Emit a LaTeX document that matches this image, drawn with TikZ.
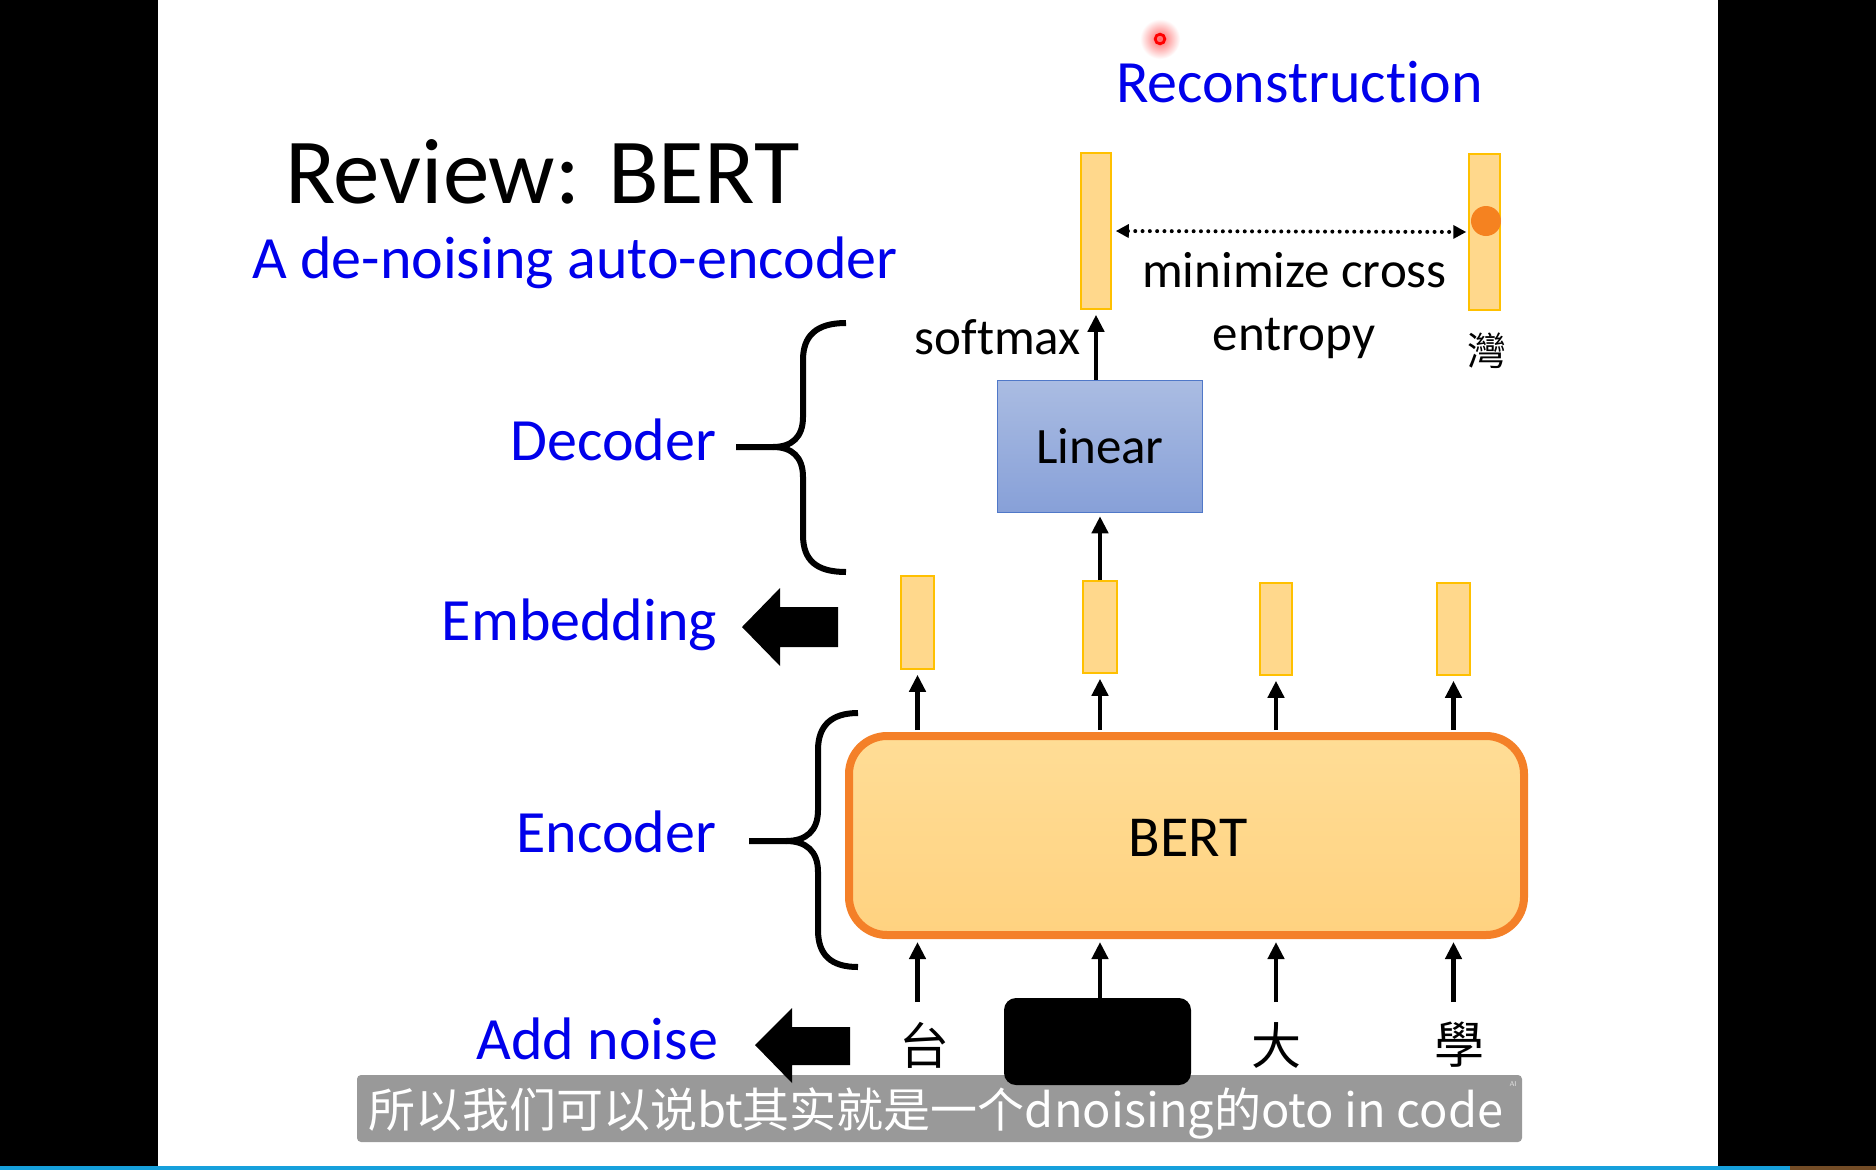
\documentclass[tikz,border=0pt]{standalone}
\usepackage{fontspec}
\setmainfont{Carlito}[Ligatures=NoCommon]
\newfontfamily\cjktc{Noto Sans CJK TC}
\newfontfamily\cjksc{Noto Sans CJK SC}
\usetikzlibrary{arrows.meta}
\definecolor{slideblue}{RGB}{0,0,235}
\definecolor{vecfill}{RGB}{255,216,140}
\definecolor{vecborder}{RGB}{255,192,0}
\definecolor{bertborder}{RGB}{244,128,40}
\definecolor{berttop}{RGB}{255,221,150}
\definecolor{bertbot}{RGB}{255,210,128}
\definecolor{lintop}{RGB}{170,188,226}
\definecolor{linbot}{RGB}{135,160,216}
\definecolor{linborder}{RGB}{80,120,200}
\definecolor{dotorange}{RGB}{245,130,32}
\definecolor{barblue}{RGB}{22,160,220}
\newcommand\setfs[1]{\fontsize{#1}{#1}\selectfont}
\begin{document}
\begin{tikzpicture}[x=1pt,y=-1pt,
  txt/.style={inner sep=0pt, outer sep=0pt},
  bluetxt/.style={txt, text=slideblue, font=\setfs{60}},
  vecbox/.style={draw=vecborder, fill=vecfill, line width=1.5pt, inner sep=0pt, minimum width=#1},
  vecbox/.default=31pt,
  arr/.style={line width=4.6pt, -{Triangle[length=17pt,width=16pt]}},
  brace/.style={line width=6pt, line cap=butt},
  fatarrow/.style={fill=black}]
\useasboundingbox (0,0) rectangle (1876,1170);
% background
\fill[white] (0,0) rectangle (1876,1170);
\fill[black] (0,0) rectangle (158,1166);
\fill[black] (1718,0) rectangle (1876,1166);
\fill[barblue] (0,1166) rectangle (1790,1170);
\fill[black!40!brown] (1790,1166) rectangle (1876,1170);

% red pointer dot
\shade[inner color=red!60, outer color=white] (1160,39) circle (20);
\draw[red, line width=2.8pt] (1160,39) circle (4.8);

% titles
\node[txt, anchor=base west, font=\setfs{93}] (title) at (285,203) {Review: BERT};
\node[bluetxt, anchor=base west] (subtitle) at (252,278) {A de-noising auto-encoder};
\node[bluetxt, anchor=base west] (recon) at (1116,102) {Reconstruction};

% output vectors
\node[vecbox=30pt, minimum height=156pt] (o1) at (1096,231) {};
\node[vecbox=31pt, minimum height=156pt] (o2) at (1484.5,232) {};
\fill[dotorange] (o2.center) ++(1.5,-11) circle (15);
\draw[line width=4pt, dash pattern=on 0pt off 7.3pt, line cap=round,
  {Triangle[length=13pt,width=13pt]}-{Triangle[length=13pt,width=13pt]},
  shorten <=4pt, shorten >=2pt] (o1.east) -- (o2.west);
\node[txt, anchor=base, font=\setfs{51}] (mc) at (1294.5,287) {minimize cross};
\node[txt, anchor=base, font=\setfs{51}] (ent) at (1294,350) {entropy};
\node[txt, font=\cjktc\setfs{39}] (wan) at (1486.5,350.5) {灣};

% linear
\node[draw=linborder, line width=1.5pt, top color=lintop, bottom color=linbot,
  minimum width=205pt, minimum height=132pt, inner sep=0pt] (lin) at (1100,446.5) {};
\node[txt, anchor=base, font=\setfs{51}] (lintxt) at (1100,463) {Linear};
\draw[arr, shorten >=5pt] (lin.north -| o1.south) -- (o1.south);
\node[txt, anchor=base east, font=\setfs{51}] (soft) at (1081,354) {softmax};

% embeddings
\node[vecbox=33pt, minimum height=93pt] (e1) at (917.5,622.5) {};
\node[vecbox=34pt, minimum height=92pt] (e2) at (1100,627) {};
\node[vecbox=32pt, minimum height=92pt] (e3) at (1276,629) {};
\node[vecbox=33pt, minimum height=92pt] (e4) at (1453.5,629) {};
\draw[arr, shorten >=3pt] (e2.north) -- (lin.south);

% BERT
\node[draw=bertborder, line width=8pt, top color=berttop, bottom color=bertbot,
  rounded corners=38pt, minimum width=675pt, minimum height=199pt, inner sep=0pt] (bert) at (1186.5,835.5) {};
\node[txt, anchor=base, font=\setfs{58}] (berttxt) at (1188,856) {BERT};
\foreach \e in {e1,e2,e3,e4}
  \draw[arr, shorten >=5pt, shorten <=2pt] (bert.north -| \e.south) -- (\e.south);

% inputs
\node[txt, font=\cjktc\setfs{50}, minimum height=86pt] (t1) at (924,1045) {台};
\node[fill=black, rounded corners=12pt, minimum width=187pt, minimum height=87pt, inner sep=0pt] (mask) at (1097.5,1041.5) {};
\node[txt, font=\cjktc\setfs{50}, minimum height=86pt] (t3) at (1276,1045) {大};
\node[txt, font=\cjktc\setfs{50}, minimum height=86pt] (t4) at (1459,1045) {學};
\draw[arr, shorten >=3pt] (t1.north -| e1.south) -- (bert.south -| e1.south);
\draw[arr, shorten >=3pt] (mask.north -| e2.south) -- (bert.south -| e2.south);
\draw[arr, shorten >=3pt] (t3.north -| e3.south) -- (bert.south -| e3.south);
\draw[arr, shorten >=3pt] (t4.north -| e4.south) -- (bert.south -| e4.south);

% left labels and braces
\node[bluetxt, anchor=base east] (dec) at (716,460) {Decoder};
\draw[brace] (846,323) .. controls (816,323) and (803,336) .. (803,360) -- (803,417)
  .. controls (803,437) and (792,447) .. (773,447) -- (736,447);
\draw[brace] (773,447) .. controls (792,447) and (803,457) .. (803,477) -- (803,535)
  .. controls (803,560) and (816,572) .. (846,572);

\node[bluetxt, anchor=base east] (emb) at (717,640) {Embedding};
\fill[fatarrow] (742,627) -- (780,588) -- (780,607) -- (838,607) -- (838,647) -- (780,647) -- (780,666) -- cycle;

\node[bluetxt, anchor=base east] (enc) at (716,852) {Encoder};
\draw[brace] (858,713) .. controls (831,713) and (818,726) .. (818,750) -- (818,810)
  .. controls (818,831) and (806,841) .. (786,841) -- (749,841);
\draw[brace] (786,841) .. controls (806,841) and (818,851) .. (818,872) -- (818,930)
  .. controls (818,955) and (831,967) .. (858,967);

\node[bluetxt, anchor=base east] (noise) at (718,1059) {Add noise};
\fill[fatarrow] (755,1045) -- (792,1008) -- (792,1027) -- (850,1027) -- (850,1065) -- (792,1065) -- (792,1083) -- cycle;

% subtitle bar
\fill[black, opacity=0.4, rounded corners=4pt] (357,1075) rectangle (1522,1142);
\node[txt, anchor=base west, text=white, font=\cjksc\setfs{47}] (sub) at (368,1127) {所以我们可以说bt其实就是一个dnoising的oto in code};
\node[txt, text=white!78!gray, font=\sffamily\setfs{7}] (ai) at (1513,1084) {AI};
\end{tikzpicture}
\end{document}
